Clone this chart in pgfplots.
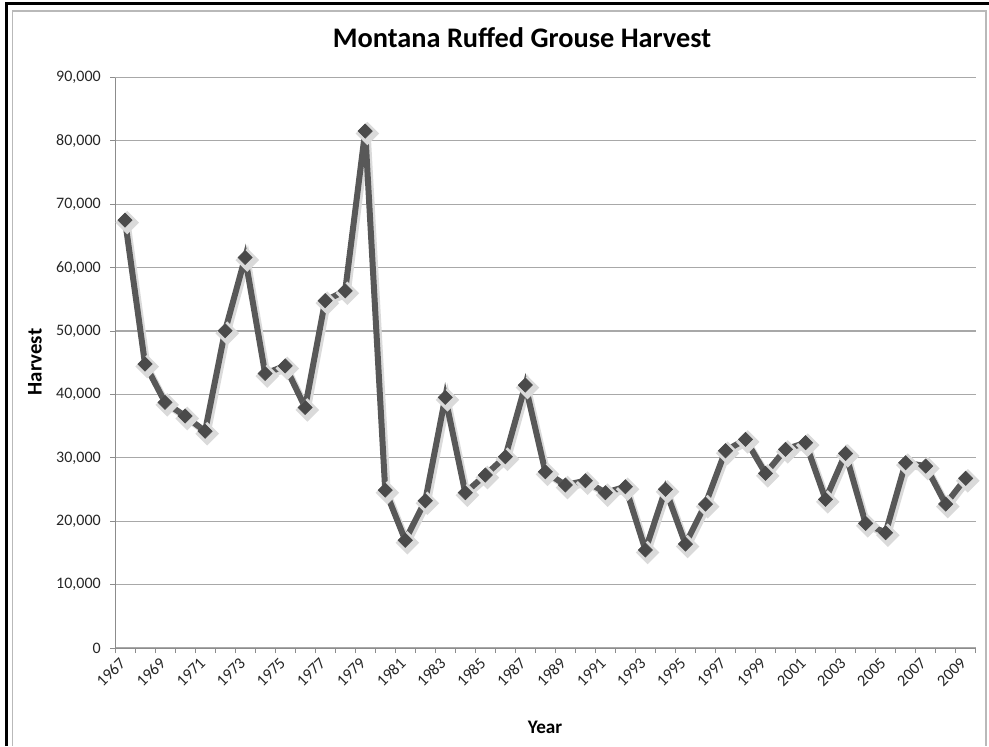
\documentclass[border=0pt]{standalone}
\usepackage{pgfplots}
\pgfplotsset{compat=1.18}
\usepackage{fontspec}
\setmainfont{Carlito}
\definecolor{linec}{HTML}{585858}
\definecolor{markc}{HTML}{4A4A4A}
\definecolor{gridc}{HTML}{A8A8A8}
\definecolor{axc}{HTML}{8C8C8C}
\definecolor{shadc}{HTML}{DADADA}
\pgfplotstableread{
i h
0 67500
1 44800
2 38750
3 36600
4 34200
5 50050
6 61600
7 43300
8 44500
9 37950
10 54800
11 56350
12 81550
13 24900
14 17000
15 23230
16 39540
17 24500
18 27290
19 30170
20 41480
21 27800
22 25710
23 26390
24 24500
25 25440
26 15460
27 25030
28 16400
29 22700
30 31120
31 32910
32 27550
33 31340
34 32390
35 23450
36 30700
37 19660
38 18190
39 29230
40 28700
41 22710
42 26770
}\harvest
\begin{document}
\begin{tikzpicture}
\path[use as bounding box] (0,0) rectangle (593.4pt,447.6pt);
% frame
\draw[black, line width=1.8pt] (3.6pt,0) -- (3.6pt,445.2pt) -- (593.4pt,445.2pt);
\draw[gray!55, line width=0.7pt] (7.4pt,0) -- (7.4pt,441pt) -- (591.6pt,441pt) -- (591.6pt,0);
\begin{axis}[
  at={(69pt,58.8pt)}, anchor=south west,
  scale only axis, width=516.4pt, height=342.3pt,
  xmin=-0.5, xmax=42.5, ymin=0, ymax=90000,
  axis x line*=bottom, axis y line*=left,
  axis line style={draw=axc, line width=0.6pt},
  tick align=outside,
  major tick length=3pt,
  tick style={draw=axc, line width=0.6pt},
  xtick={-0.5,0.5,...,42.5}, xticklabels={},
  extra x ticks={0,2,...,42},
  extra x tick labels={1967,1969,1971,1973,1975,1977,1979,1981,1983,1985,1987,1989,1991,1993,1995,1997,1999,2001,2003,2005,2007,2009},
  extra x tick style={major tick length=0pt, grid=none},
  xticklabel style={font=\fontsize{9.8}{11}\selectfont, text=black!85},
  every x tick label/.append style={yshift=-5pt, xshift=1pt, rotate=45, anchor=east},
  ytick={0,10000,...,90000},
  ymajorgrids, grid style={draw=gridc, line width=0.7pt},
  scaled y ticks=false,
  yticklabel style={font=\fontsize{9.6}{11}\selectfont, xshift=-2pt, text=black!85},
  /pgf/number format/.cd, 1000 sep={,}, assume math mode=true,
]
\addplot[shadc, line width=4pt, mark=square*, mark size=3pt,
  mark options={rotate=45, fill=shadc, draw=shadc}, xshift=1.3pt, yshift=-1.5pt, forget plot]
  table[x=i, y=h] {\harvest};
\addplot[linec, line width=3.6pt, mark=square*, mark size=3pt,
  mark options={rotate=45, fill=markc, draw=markc, line width=0.4pt}]
  table[x=i, y=h] {\harvest};
\end{axis}
\node[font=\bfseries\fontsize{17}{20}\selectfont] at (313.2pt,424.8pt) {Montana Ruffed Grouse Harvest};
\node[font=\bfseries\fontsize{12.5}{14}\selectfont, rotate=90] at (21pt,230.4pt) {Harvest};
\node[font=\bfseries\fontsize{11.5}{13}\selectfont] at (327pt,11.4pt) {Year};
\end{tikzpicture}
\end{document}
